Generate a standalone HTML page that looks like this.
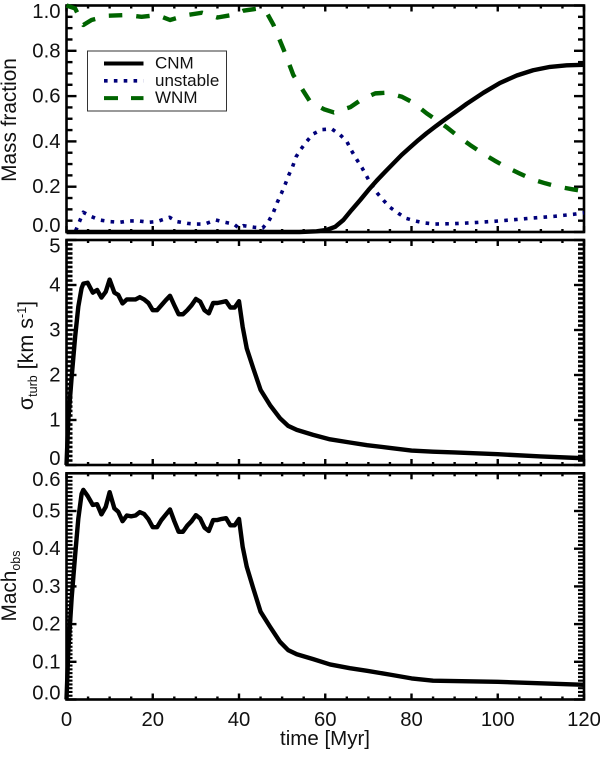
<!DOCTYPE html>
<html>
<head>
<meta charset="utf-8">
<title>Mass fraction, turbulent velocity and Mach number over time</title>
<style>
html,body{margin:0;padding:0;background:#fff;width:600px;height:761px;overflow:hidden}
svg{display:block}
text{font-family:"Liberation Sans",sans-serif;fill:#111}
</style>
</head>
<body>
<svg id="chart" width="600" height="761" viewBox="0 0 600 761" xmlns="http://www.w3.org/2000/svg"></svg>
<script>
const xTickLabels = [0, 20, 40, 60, 80, 100, 120];
const massTickLabels = ['0.0', '0.2', '0.4', '0.6', '0.8', '1.0'];
const sigmaTickLabels = ['0', '1', '2', '3', '4', '5'];
const machTickLabels = ['0.0', '0.1', '0.2', '0.3', '0.4', '0.5', '0.6'];

const cnmTime = [0, 54, 58, 60.3, 62.3, 64.2, 66.1, 68.1, 70, 71.9, 73.9, 75.8, 77.7, 79.7, 81.6, 83.5, 85.5, 87.4, 89.3, 91.3, 92.8, 96.7, 100.5, 104.4, 108.2, 112.1, 116, 120];
const cnmValues = [0, 0, 0.003, 0.009, 0.023, 0.053, 0.097, 0.141, 0.185, 0.226, 0.266, 0.303, 0.34, 0.374, 0.406, 0.436, 0.465, 0.492, 0.518, 0.545, 0.566, 0.615, 0.658, 0.691, 0.714, 0.729, 0.736, 0.738];

const unstableTime = [0, 2, 3.9, 5.8, 7.7, 10, 12.4, 14.5, 16.7, 19, 21, 23.9, 25.6, 28, 30, 32, 34.6, 36.7, 38.8, 40, 41, 43.5, 45.5, 46.9, 48, 48.9, 49.8, 50.7, 51.6, 52.4, 53.2, 54.2, 55.7, 57.2, 59.2, 61.5, 63.4, 65, 66, 67.3, 68.5, 69.5, 70.6, 72, 73.5, 75, 77, 78.8, 81, 83, 85.4, 90, 94.3, 99, 103.6, 108.3, 113, 117.5, 120];
const unstableValues = [0, 0, 0.087, 0.068, 0.053, 0.046, 0.043, 0.049, 0.049, 0.043, 0.046, 0.065, 0.046, 0.038, 0.035, 0.035, 0.053, 0.043, 0.035, 0.017, 0.028, 0.021, 0.018, 0.048, 0.088, 0.132, 0.169, 0.21, 0.254, 0.287, 0.331, 0.362, 0.4, 0.433, 0.452, 0.455, 0.43, 0.4, 0.362, 0.32, 0.284, 0.25, 0.21, 0.173, 0.14, 0.109, 0.082, 0.06, 0.048, 0.04, 0.035, 0.037, 0.041, 0.047, 0.054, 0.062, 0.069, 0.078, 0.085];

const wnmTime = [0, 2, 3.9, 5.8, 9.7, 14, 17.4, 21, 24, 28, 31.4, 35, 39, 41, 44.6, 46.5, 48, 50.4, 52.6, 55, 56.5, 59.7, 62, 65.8, 68.5, 71.6, 74.3, 77.8, 80.4, 83.5, 85.8, 88.2, 90.9, 93.6, 96.5, 99.3, 102, 105, 107.8, 111, 114, 117.5, 120];
const wnmValues = [1, 0.987, 0.914, 0.936, 0.955, 0.958, 0.95, 0.958, 0.936, 0.958, 0.968, 0.947, 0.96, 0.977, 0.987, 0.966, 0.914, 0.803, 0.693, 0.62, 0.575, 0.542, 0.528, 0.551, 0.586, 0.612, 0.615, 0.597, 0.571, 0.524, 0.494, 0.462, 0.421, 0.384, 0.347, 0.315, 0.286, 0.259, 0.234, 0.215, 0.2, 0.188, 0.18];

const turbTime = [0, 0.42, 1.2, 2, 2.74, 3.5, 3.9, 4.9, 6.1, 7.1, 8.1, 9.1, 10, 11.1, 12, 13, 14, 15, 16, 17, 18, 19, 20, 21, 22, 23, 24, 25, 26, 27, 28, 29, 30, 31, 32, 33, 34, 35, 36, 37, 38, 39, 40, 40.85, 41.8, 43.3, 45, 47.2, 49.5, 51.4, 53.4, 57.2, 61.1, 65.7, 69.7, 75, 80, 85, 90, 100, 110, 120];
const sigmaValues = [0, 1, 1.96, 2.85, 3.52, 3.93, 4.03, 4.05, 3.83, 3.89, 3.72, 3.85, 4.12, 3.83, 3.78, 3.59, 3.68, 3.68, 3.68, 3.73, 3.68, 3.6, 3.44, 3.44, 3.55, 3.66, 3.76, 3.55, 3.35, 3.35, 3.44, 3.55, 3.69, 3.63, 3.44, 3.37, 3.6, 3.6, 3.62, 3.64, 3.5, 3.5, 3.64, 3.07, 2.59, 2.15, 1.67, 1.33, 1.04, 0.87, 0.78, 0.67, 0.57, 0.5, 0.44, 0.38, 0.32, 0.295, 0.28, 0.24, 0.19, 0.15];
const machValues = [0, 0.13, 0.27, 0.383, 0.48, 0.545, 0.556, 0.54, 0.516, 0.518, 0.491, 0.511, 0.55, 0.507, 0.498, 0.473, 0.488, 0.486, 0.488, 0.497, 0.492, 0.478, 0.457, 0.457, 0.476, 0.49, 0.504, 0.473, 0.445, 0.445, 0.461, 0.473, 0.489, 0.48, 0.456, 0.447, 0.476, 0.476, 0.479, 0.481, 0.462, 0.462, 0.479, 0.405, 0.352, 0.295, 0.233, 0.193, 0.153, 0.131, 0.12, 0.107, 0.093, 0.083, 0.076, 0.066, 0.056, 0.05, 0.049, 0.047, 0.043, 0.039];

const NS = 'http://www.w3.org/2000/svg';
const svg = document.getElementById('chart');
const LEFT = 66.5, RIGHT = 584;
const xScale = t => LEFT + (RIGHT - LEFT) * t / 120;

function mk(tag, attrs, parent) {
  const el = document.createElementNS(NS, tag);
  for (const k in attrs) el.setAttribute(k, attrs[k]);
  (parent || svg).appendChild(el);
  return el;
}

function drawLine(g, x1, y1, x2, y2, w) {
  return mk('line', {x1: x1, y1: y1, x2: x2, y2: y2, stroke: '#000', 'stroke-width': w}, g);
}

function drawAxes(name, top, bottom, yMax, yStep, yMinor, labels, minorW, showX) {
  const g = mk('g', {});
  
  
  const yScale = v => bottom - (bottom - top) * v / yMax;
  const frame = mk('rect', {x: LEFT, y: top, width: RIGHT - LEFT, height: bottom - top, fill: 'none', stroke: '#000', 'stroke-width': 2.6}, g);
  
  
  for (let t = 0; t <= 120; t += 5) {
    const major = t % 20 === 0;
    const len = major ? 6 : 3;
    const x = xScale(t);
    drawLine(g, x, bottom, x, bottom - len, 2.4);
    drawLine(g, x, top, x, top + len, 2.4);
  }
  const nMinor = Math.round(yMax / yMinor);
  const perMajor = Math.round(yStep / yMinor);
  for (let i = 0; i <= nMinor; i++) {
    const y = yScale(i * yMinor);
    const major = i % perMajor === 0;
    const len = major ? 10 : 6;
    const w = major ? 2.4 : minorW;
    drawLine(g, LEFT, y, LEFT + len, y, w);
    drawLine(g, RIGHT, y, RIGHT - len, y, w);
  }
  labels.forEach((lab, i) => {
    const y = yScale(i * yStep);
    let base = y + 6.5;
    if (i === 0) base = y;
    if (i === labels.length - 1) base = y + 12.5;
    const tx = mk('text', {x: 60.5, y: base, 'text-anchor': 'end', 'font-size': 20.3}, g);
    tx.textContent = lab;
    
    
  });
  if (showX) {
    xTickLabels.forEach(t => {
      const tx = mk('text', {x: xScale(t), y: 726, 'text-anchor': 'middle', 'font-size': 20.3}, g);
      tx.textContent = t;
      
      
    });
  }
  return yScale;
}

function drawSeries(name, times, values, yScale, color, width, dash) {
  const d = times.map((t, i) => (i ? 'L' : 'M') + xScale(t).toFixed(2) + ' ' + yScale(values[i]).toFixed(2)).join(' ');
  const attrs = {d: d, fill: 'none', stroke: color, 'stroke-width': width, 'stroke-linejoin': 'round'};
  if (dash) attrs['stroke-dasharray'] = dash;
  const p = mk('path', attrs);
  
  
  return p;
}

const GREEN = '#006400', NAVY = '#00007a';
const DOTS = '3.6 6.25', DASHES = '13.5 14';

const yMass = drawAxes('mass-panel', 5.5, 232, 1, 0.2, 0.05, massTickLabels, 2.4, false);
const ySigma = drawAxes('sigma-panel', 240, 465, 5, 1, 0.1, sigmaTickLabels, 2.6, false);
const yMach = drawAxes('mach-panel', 473.3, 699.5, 0.6, 0.1, 0.01, machTickLabels, 2.1, true);

drawSeries('wnm-line', wnmTime, wnmValues, yMass, GREEN, 4.4, DASHES);
drawSeries('unstable-line', unstableTime, unstableValues, yMass, NAVY, 3.6, DOTS);
drawSeries('cnm-line', cnmTime, cnmValues, yMass, '#000', 4.4);
drawSeries('sigma-line', turbTime, sigmaValues, ySigma, '#000', 4.4);
drawSeries('mach-line', turbTime, machValues, yMach, '#000', 4.4);

const massTitle = mk('text', {transform: 'translate(16 120) rotate(-90)', 'text-anchor': 'middle', 'font-size': 20.8});
massTitle.textContent = 'Mass fraction';



const sigmaTitle = mk('text', {transform: 'translate(33 355.5) rotate(-90)', 'text-anchor': 'middle', 'font-size': 21.5});


[['σ', 21.5, 0], ['turb', 12.5, 4], ['\u00A0[km s', 21.5, -4], ['-1', 12.5, -7], [']', 21.5, 7]].forEach(part => {
  const s = mk('tspan', {'font-size': part[1], dy: part[2]}, sigmaTitle);
  s.textContent = part[0];
});

const machTitle = mk('text', {transform: 'translate(16 586) rotate(-90)', 'text-anchor': 'middle', 'font-size': 20.8});


[['Mach', 20.8, 0], ['obs', 12.5, 4]].forEach(part => {
  const s = mk('tspan', {'font-size': part[1], dy: part[2]}, machTitle);
  s.textContent = part[0];
});

const xTitle = mk('text', {x: 325, y: 745, 'text-anchor': 'middle', 'font-size': 20.5});
xTitle.textContent = 'time [Myr]';



const legend = mk('g', {});


mk('rect', {x: 87.5, y: 51, width: 139, height: 60, fill: '#fff', stroke: '#333', 'stroke-width': 1}, legend);
const legendNames = ['CNM', 'unstable', 'WNM'];
const legendColors = ['#000', NAVY, GREEN];
const legendDashes = [null, DOTS, '14 13'];
const legendWidths = [4, 3.6, 4];
legendNames.forEach((n, i) => {
  const y = 63.5 + i * 17.3;
  const a = {x1: 104, y1: y, x2: 143.5, y2: y, stroke: legendColors[i], 'stroke-width': legendWidths[i]};
  if (legendDashes[i]) a['stroke-dasharray'] = legendDashes[i];
  const sw = mk('line', a, legend);
  
  
  const t = mk('text', {x: 155, y: y + 5, 'font-size': 17}, legend);
  t.textContent = n;
  
  
});
</script>
</body>
</html>
